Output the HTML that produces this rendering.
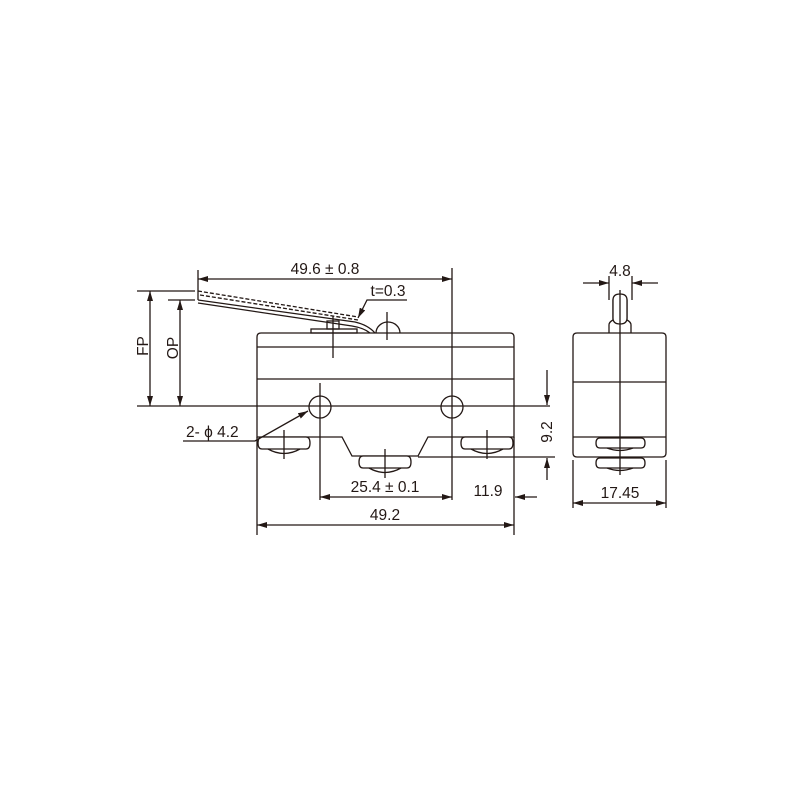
<!DOCTYPE html>
<html><head><style>body{margin:0;background:#fff}svg{display:block}text{font-family:"Liberation Sans",sans-serif;fill:#231815}</style></head><body>
<svg width="800" height="800" viewBox="0 0 800 800" xmlns="http://www.w3.org/2000/svg">
<defs><marker id="a" viewBox="0 0 10 6" refX="10" refY="3" markerWidth="10" markerHeight="6" orient="auto-start-reverse" markerUnits="userSpaceOnUse"><path d="M0,0L10,3L0,6z" fill="#231815"/></marker></defs>
<g fill="none" stroke="#231815" stroke-width="1.3">
<path d="M257,437V337q0,-4 4,-4H510q4,0 4,4V437H428L418,456H352L342,437Z" fill="#fff"/>
<line x1="257" y1="347" x2="514" y2="347"/>
<line x1="257" y1="379" x2="514" y2="379"/>
<circle cx="320" cy="407" r="11"/>
<circle cx="452" cy="407" r="11"/>
<line x1="137" y1="406" x2="550" y2="406"/>
<path d="M262,437H306q4,0 4,6t-4,6H262q-4,0 -4,-6t4,-6Z" fill="#fff"/>
<path d="M268,449Q284,458 300,449"/>
<line x1="284" y1="430" x2="284" y2="459"/>
<path d="M363,456H407q4,0 4,6t-4,6H363q-4,0 -4,-6t4,-6Z" fill="#fff"/>
<path d="M369,468Q385,477 401,468"/>
<line x1="385" y1="449" x2="385" y2="478"/>
<path d="M465,437H509q4,0 4,6t-4,6H465q-4,0 -4,-6t4,-6Z" fill="#fff"/>
<path d="M471,449Q487,458 503,449"/>
<line x1="487" y1="430" x2="487" y2="459"/>
<rect x="311" y="329" width="46" height="4"/>
<rect x="327" y="321" width="12" height="8"/>
<line x1="333" y1="316" x2="333" y2="358"/>
<path d="M198,300L355,322Q368,325 375,333"/>
<path d="M198,303L352,326Q364,328 370,333"/>
<path d="M198,291L358,317" stroke-dasharray="4,2"/>
<path d="M200,295L358,320" stroke-dasharray="4,2"/>
<path d="M376,333A12,11 0 0 1 400,333"/>
<line x1="387" y1="312" x2="387" y2="340"/>
<line x1="320" y1="383" x2="320" y2="500"/>
<line x1="452" y1="268" x2="452" y2="500"/>
<line x1="257" y1="437" x2="257" y2="535"/>
<line x1="514" y1="437" x2="514" y2="535"/>
<line x1="198" y1="270" x2="198" y2="300"/>
<line x1="198" y1="279" x2="452" y2="279" marker-start="url(#a)" marker-end="url(#a)"/>
<line x1="137" y1="291" x2="195" y2="291"/>
<line x1="168" y1="300" x2="195" y2="300"/>
<line x1="150" y1="291" x2="150" y2="406" marker-start="url(#a)" marker-end="url(#a)"/>
<line x1="180" y1="300" x2="180" y2="406" marker-start="url(#a)" marker-end="url(#a)"/>
<path d="M407,300H367L358,318" marker-end="url(#a)"/>
<path d="M183,441H255L308,411" marker-end="url(#a)"/>
<line x1="320" y1="497" x2="452" y2="497" marker-start="url(#a)" marker-end="url(#a)"/>
<line x1="257" y1="525" x2="514" y2="525" marker-start="url(#a)" marker-end="url(#a)"/>
<line x1="537" y1="497" x2="515" y2="497" marker-end="url(#a)"/>
<line x1="418" y1="457" x2="555" y2="457"/>
<line x1="547" y1="370" x2="547" y2="405" marker-end="url(#a)"/>
<line x1="547" y1="480" x2="547" y2="458" marker-end="url(#a)"/>
<path d="M577,333H662q4,0 4,4V453q0,4 -4,4H577q-4,0 -4,-4V337q0,-4 4,-4Z" fill="#fff"/>
<line x1="573" y1="382" x2="666" y2="382"/>
<line x1="573" y1="437" x2="666" y2="437"/>
<path d="M609,333V325q0,-3 4,-5V300H627V320q4,2 4,5V333"/>
<path d="M613,300q0,-6 7,-6q7,0 7,6V318q0,6 -7,6q-7,0 -7,-6Z" fill="#fff"/>
<path d="M600,438H641q4,0 4,5t-4,5H600q-4,0 -4,-5t4,-5Z" fill="#fff"/>
<path d="M600,458H641q4,0 4,5t-4,5H600q-4,0 -4,-5t4,-5Z" fill="#fff"/>
<path d="M607,448Q620,453 633,448"/>
<path d="M607,468Q620,473 633,468"/>
<line x1="620" y1="290" x2="620" y2="475"/>
<line x1="609" y1="276" x2="609" y2="300"/>
<line x1="632" y1="276" x2="632" y2="300"/>
<line x1="583" y1="283" x2="609" y2="283" marker-end="url(#a)"/>
<line x1="658" y1="283" x2="632" y2="283" marker-end="url(#a)"/>
<line x1="573" y1="460" x2="573" y2="508"/>
<line x1="666" y1="460" x2="666" y2="508"/>
<line x1="573" y1="503" x2="666" y2="503" marker-start="url(#a)" marker-end="url(#a)"/>
</g>
<g font-size="15.5">
<text x="325" y="274" text-anchor="middle">49.6 ± 0.8</text>
<text x="388" y="296" text-anchor="middle">t=0.3</text>
<text x="186" y="437">2- ϕ 4.2</text>
<text x="385" y="492" text-anchor="middle">25.4 ± 0.1</text>
<text x="488" y="496" text-anchor="middle">11.9</text>
<text x="385" y="520" text-anchor="middle">49.2</text>
<text x="620" y="276" text-anchor="middle">4.8</text>
<text x="620" y="498" text-anchor="middle">17.45</text>
<text transform="translate(148,346) rotate(-90)" text-anchor="middle">FP</text>
<text transform="translate(178,348) rotate(-90)" text-anchor="middle">OP</text>
<text transform="translate(552,432) rotate(-90)" text-anchor="middle">9.2</text>
</g>
</svg>
</body></html>
